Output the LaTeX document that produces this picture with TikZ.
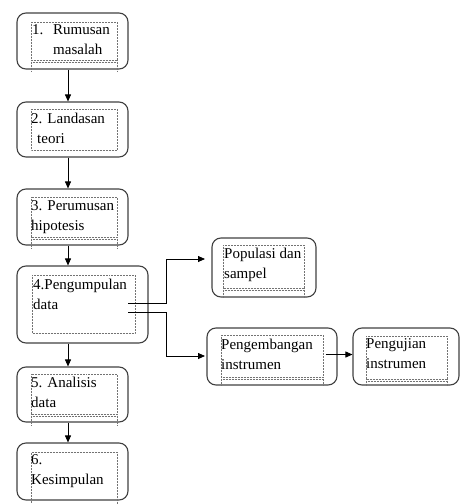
\documentclass[tikz,border=0pt]{standalone}
\usepackage{fontspec}
\setmainfont{Liberation Serif}
\usetikzlibrary{arrows.meta}

\begin{document}
\begin{tikzpicture}[x=1pt,y=-1pt,
    stepbox/.style={draw=black!75,line width=1.1pt,rounded corners=9pt,inner sep=0pt},
    textbox/.style={draw=black!55,densely dotted,line width=.5pt},
    steptext/.style={anchor=north west,inner sep=0pt,align=left,font=\fontsize{15}{20}\selectfont},
    flow/.style={draw,line width=.8pt,-{Triangle[length=7pt,width=6pt]}}]

      \useasboundingbox (0,0) rectangle (474,504);

      \begin{scope}[every node/.style={stepbox}]
        \node (rumusan)      at (72.5,41)    [minimum width=111pt,minimum height=56pt] {};
        \node (landasan)     at (72.5,129.5) [minimum width=111pt,minimum height=55pt] {};
        \node (perumusan)    at (72.5,217)   [minimum width=111pt,minimum height=56pt] {};
        \node (pengumpulan)  at (82.5,304.5) [minimum width=131pt,minimum height=77pt] {};
        \node (analisis)     at (72.5,394.5) [minimum width=111pt,minimum height=55pt] {};
        \node (kesimpulan)   at (72.5,471.5) [minimum width=111pt,minimum height=57pt] {};
        \node (populasi)     at (264,267.5)  [minimum width=104pt,minimum height=59pt] {};
        \node (pengembangan) at (272,356.5)  [minimum width=130pt,minimum height=57pt] {};
        \node (pengujian)    at (406,356.5)  [minimum width=106pt,minimum height=57pt] {};
      \end{scope}

      % dotted text frames
      \foreach \l/\r/\t/\b/\e in {31/117/22/60/72, 31/117/197/237/249, 31/117/374/414/425,
                                  223/304/245/288/298, 221/323/335/377/386, 366/447/336/379/386}
        \draw[textbox] (\l,\t) rectangle (\r,\b) (\l,\b+2) -- (\r,\b+2)
                       (\l,\b) -- (\l,\e) (\r,\b) -- (\r,\e);
      \draw[textbox] (31,109) rectangle (117,150);
      \draw[textbox] (32,275) rectangle (135,333);
      \draw[textbox] (31,504) -- (31,452) -- (117,452) -- (117,504);

      \begin{scope}[every node/.style={steptext}]
        \node (rumusan-t)      at (32,24)     {\makebox[21pt][l]{1.}Rumusan\\\hspace{21pt}masalah};
        \node (landasan-t)     at (31,112.7)  {2. Landasan\\\hspace{6pt}teori};
        \node (perumusan-t)    at (31,200.7)  {3. Perumusan\\hipotesis};
        \node (pengumpulan-t)  at (33,278.7)  {4.Pengumpulan\\data};
        \node (analisis-t)     at (31,376.7)  {5. Analisis\\data};
        \node (kesimpulan-t)   at (31,454.7)  {6.\\Kesimpulan};
        \node (populasi-t)     at (224,247.7) {Populasi dan\\sampel};
        \node (pengembangan-t) at (221,338.7) {Pengembangan\\instrumen};
        \node (pengujian-t)    at (366,338.7) {Pengujian\\instrumen};
      \end{scope}

      \coordinate (spine) at (68,0);
      \coordinate (out1) at (128,303);
      \coordinate (out2) at (128,312);
      \coordinate (in1) at (205,259);
      \coordinate (in2) at (205,356);

      \path[flow] (rumusan.south -| spine)     -- (landasan.north -| spine);
      \path[flow] (landasan.south -| spine)    -- (perumusan.north -| spine);
      \path[flow] (perumusan.south -| spine)   -- (pengumpulan.north -| spine);
      \path[flow] (pengumpulan.south -| spine) -- (analisis.north -| spine);
      \path[flow] (analisis.south -| spine)    -- (kesimpulan.north -| spine);
      \path[flow] (out1) -- ++(38,0) |- (in1);
      \path[flow] (out2) -- ++(38,0) |- (in2);
      \path[flow] ([xshift=-12pt,yshift=2pt]pengembangan.east) -- ([yshift=2pt]pengujian.west);

    \end{tikzpicture}
\end{document}
